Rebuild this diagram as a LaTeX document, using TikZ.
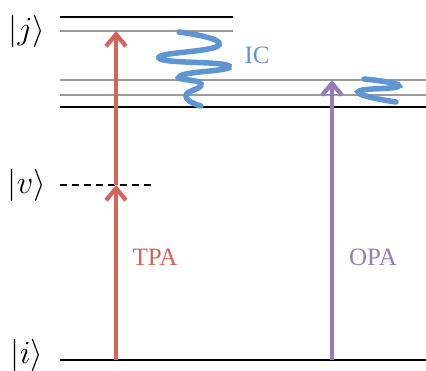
\documentclass[tikz,border=0pt]{standalone}
\usepackage{fontspec}
\setmainfont{Liberation Serif}
\usetikzlibrary{arrows.meta}
\definecolor{tpared}{RGB}{211,99,93}
\definecolor{opapurple}{RGB}{150,124,183}
\definecolor{icblue}{RGB}{95,150,210}
\definecolor{sublevel}{RGB}{155,155,155}
\begin{document}
\begin{tikzpicture}[x=1pt,y=-1pt,
  lvl/.style={line width=2pt,black},
  sublvl/.style={line width=1.8pt,sublevel},
  ket/.style={font=\Huge},
  lab/.style={font=\fontsize{25}{28}\selectfont},
  trans/.style={line width=3.8pt,-{Straight Barb[length=12pt,width=20pt,line width=4.2pt]}},
  wave/.style={line width=5.5pt,icblue,line cap=round}]
  \useasboundingbox(0,0)rectangle(426,371);
  % energy levels
  \draw[lvl](60,17)--(233,17);
  \draw[sublvl](60,31)--(233,31);
  \foreach \y in {80,95}
    \draw[sublvl](60,\y)--(426,\y);
  \draw[lvl](60,107)--(426,107);
  \draw[lvl,dashed,dash pattern=on 7pt off 5pt](60,185)--(153,185);
  \draw[lvl](60,360)--(426,360);
  \node[ket](ketj)at(27,31){\scalebox{1.3}{$|j\rangle$}};
  \node[ket](ketv)at(27,185){\scalebox{1.3}{$|v\rangle$}};
  \node[ket](keti)at(27,355){\scalebox{1.3}{$|i\rangle$}};
  % transitions
  \coordinate(tpai)at(116,360);\coordinate(tpav)at(116,185);\coordinate(tpaj)at(116,31);
  \coordinate(opai)at(332,360);\coordinate(opaj)at(332,80);
  \draw[trans,tpared](tpai)--(tpav);
  \draw[trans,tpared](tpav)--(tpaj);
  \draw[trans,opapurple](opai)--(opaj);
  \node[lab,tpared](tpa)at(155,257){TPA};
  \node[lab,opapurple](opa)at(373,257){OPA};
  % internal conversion
  \draw[wave]plot[smooth,tension=1]coordinates{(179,32)(219,45)(159,58)(229,66)(180,76)(201,84)(186,96)(201,106)};
  \draw[wave]plot[smooth,tension=1]coordinates{(364,79)(399,86)(358,92)(396,102)};
  \node[lab,icblue](ic)at(257,55){IC};
\end{tikzpicture}
\end{document}
